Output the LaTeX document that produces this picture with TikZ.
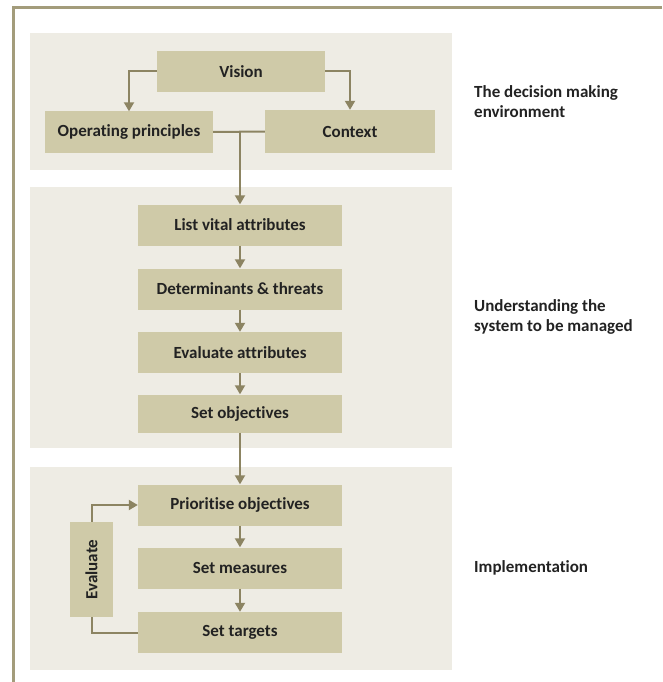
\documentclass[tikz,border=0pt]{standalone}
\usepackage{fontspec}
\setmainfont[Ligatures=NoCommon]{Carlito}
\usetikzlibrary{arrows.meta}

\definecolor{framecol}{HTML}{A39C7B}
\definecolor{panelcol}{HTML}{EEECE4}
\definecolor{boxcol}{HTML}{CFCAA8}
\definecolor{flowcol}{HTML}{8C8462}
\definecolor{inkcol}{HTML}{222222}

\tikzset{
  panel/.style={fill=panelcol, draw=none},
  stagebox/.style={fill=boxcol, draw=none, text=inkcol, font=\bfseries\fontsize{17}{20}\selectfont,
    minimum height=41pt, inner sep=0pt},
  flow/.style={draw=flowcol, line width=2pt, -{Triangle[width=10pt,length=9pt]}},
  link/.style={draw=flowcol, line width=2pt},
  phase/.style={anchor=west, align=left, text=inkcol, inner sep=0pt,
    font=\bfseries\fontsize{17}{20}\selectfont},
}

\begin{document}
\begin{tikzpicture}[x=1pt,y=-1pt]
\useasboundingbox (0,0) rectangle (662,682);
\draw [framecol, line width=3pt] (662,8) -- (13,8) -- (13,682);
\fill [panel] (30,33) rectangle (452,170);
\fill [panel] (30,187) rectangle (452,448);
\fill [panel] (30,467) rectangle (452,670);

\node [stagebox, minimum width=168pt] (vision) at (241,71.5) {Vision};
\node [stagebox, minimum width=168pt] (oppr) at (129,132) {Operating principles};
\node [stagebox, minimum width=170pt, minimum height=43pt] (context) at (350,131.5) {Context};
\node [stagebox, minimum width=204pt] (listattr) at (240,225) {List vital attributes};
\node [stagebox, minimum width=204pt] (threats) at (240,289) {Determinants \& threats};
\node [stagebox, minimum width=204pt] (evalattr) at (240,352.5) {Evaluate attributes};
\node [stagebox, minimum width=204pt, minimum height=38pt] (setobj) at (240,413.5) {Set objectives};
\node [stagebox, minimum width=204pt] (prior) at (240,505) {Prioritise objectives};
\node [stagebox, minimum width=204pt] (measures) at (240,568) {Set measures};
\node [stagebox, minimum width=204pt] (targets) at (240,632.5) {Set targets};

\draw [flow] (vision.west) -| (oppr.north);
\draw [flow] (vision.east) -| (context.north);
\draw [link] (oppr.east) -- (context.west);
\coordinate (join) at (oppr.east -| listattr.north);
\draw [flow] (join) -- (listattr.north);
\draw [flow] (listattr) -- (threats);
\draw [flow] (threats) -- (evalattr);
\draw [flow] (evalattr) -- (setobj);
\draw [flow] (setobj) -- (prior);
\draw [flow] (prior) -- (measures);
\draw [flow] (measures) -- (targets);
\draw [flow] (targets.west) -- ++(-46,0) |- (prior.west);
\node [stagebox, minimum width=95pt, minimum height=43pt, rotate=90] (evaluate) at (91.5,569.5) {Evaluate};

\node [phase] (envlabel) at (474,102) {The decision making\\environment};
\node [phase] (syslabel) at (474,317) {Understanding the\\system to be managed};
\node [phase] (implabel) at (474,568) {Implementation};
\end{tikzpicture}
\end{document}
